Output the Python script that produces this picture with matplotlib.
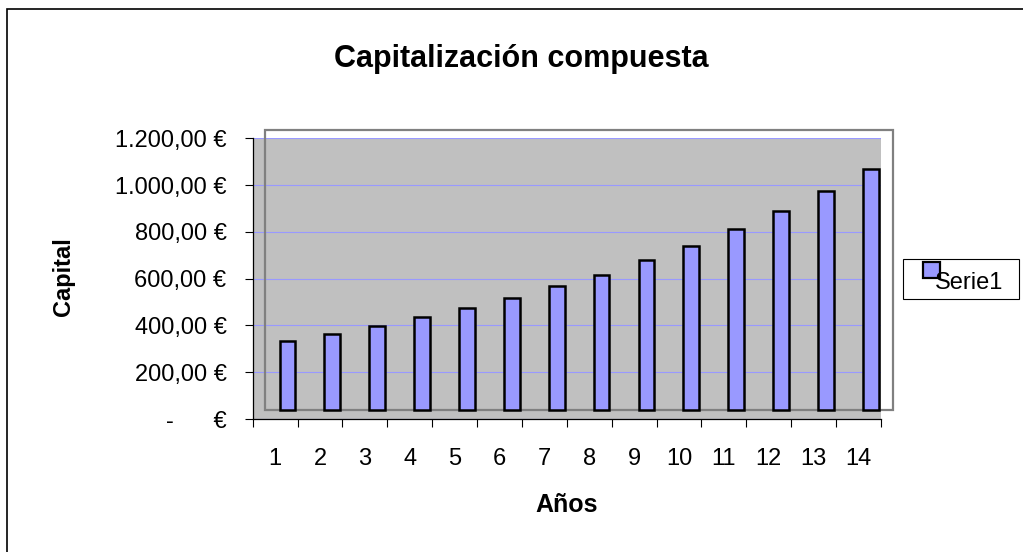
import matplotlib
matplotlib.use("Agg")
import matplotlib.pyplot as plt
from matplotlib.patches import Rectangle
from matplotlib.ticker import FixedLocator, FuncFormatter
import matplotlib.transforms as mtransforms

# datos
anios = list(range(1, 15))
capital = [298, 328, 362, 399, 437, 482, 530, 580, 641, 704, 775, 854, 937, 1032]
yticks = [0, 200, 400, 600, 800, 1000, 1200]

FONT = "Liberation Sans"
plt.rcParams["font.family"] = [FONT, "DejaVu Sans"]

W, H, DPI = 1023, 552, 100
fig = plt.figure(figsize=(W / DPI, H / DPI), dpi=DPI)


def px(x, y):
    # pixel (origen arriba-izquierda) -> fracción de figura
    return x / W, 1 - y / H


# área del eje en píxeles
ax_l, ax_r, ax_t, ax_b = 252.7, 881.0, 138.3, 419.0
ax = fig.add_axes([ax_l / W, 1 - ax_b / H, (ax_r - ax_l) / W, (ax_b - ax_t) / H])
ax.set_facecolor("#C0C0C0")

# desplazamiento "3D" de Excel: barras y marco movidos arriba-derecha
shift = mtransforms.ScaledTranslation(12.3 / DPI, 8.7 / DPI, fig.dpi_scale_trans)

ax.bar(anios, capital, width=0.35, color="#9999FF", edgecolor="black",
       linewidth=1.8, transform=ax.transData + shift, zorder=3, clip_on=False)

frame = Rectangle((0, 0), 1, 1, fill=False, edgecolor="#808080", linewidth=1.6,
                  transform=ax.transAxes + shift, clip_on=False, zorder=2)
ax.add_patch(frame)

ax.set_xlim(0.5, 14.5)
ax.set_ylim(0, 1200)

# ticks: marcas en los bordes de categoría, etiquetas centradas
ax.xaxis.set_major_locator(FixedLocator([i + 0.5 for i in range(0, 15)]))
ax.xaxis.set_major_formatter(FuncFormatter(lambda v, p: ""))
ax.xaxis.set_minor_locator(FixedLocator(anios))
ax.xaxis.set_minor_formatter(FuncFormatter(lambda v, p: f"{int(round(v))}"))
ax.tick_params(axis="x", which="major", length=5.8, width=0.8, direction="out")
ax.tick_params(axis="x", which="minor", length=0, pad=21, labelsize=17)

ax.yaxis.set_major_locator(FixedLocator(yticks))


def eur(v, pos):
    if v == 0:
        return "-      €"
    s = f"{v:,.2f}".replace(",", "X").replace(".", ",").replace("X", ".")
    return s + " €"


ax.yaxis.set_major_formatter(FuncFormatter(eur))
ax.tick_params(axis="y", length=5.8, width=0.8, pad=13, labelsize=17)

ax.grid(axis="y", color="#9999FF", linewidth=0.8, zorder=1)
ax.set_axisbelow(True)

for s in ["top", "right"]:
    ax.spines[s].set_visible(False)
for s in ["left", "bottom"]:
    ax.spines[s].set_linewidth(0.9)
    ax.spines[s].set_color("black")

# textos
fig.text(*px(521, 66.5), "Capitalización compuesta", ha="center", va="baseline",
         fontsize=22, fontweight="bold")
fig.text(*px(566.8, 511.7), "Años", ha="center", va="baseline",
         fontsize=18, fontweight="bold")
fig.text(*px(63, 277), "Capital", ha="center", va="center", rotation=90,
         fontsize=17, fontweight="bold")

# leyenda dibujada a mano (como en Excel, el texto pisa la muestra)
lx0, ly0 = px(902.7, 299)
lx1, ly1 = px(1019, 259.3)
fig.add_artist(Rectangle((lx0, ly0), lx1 - lx0, ly1 - ly0, fill=False,
                         edgecolor="black", linewidth=0.8, transform=fig.transFigure))
sx0, sy0 = px(922.7, 278)
sx1, sy1 = px(940, 262)
fig.add_artist(Rectangle((sx0, sy0), sx1 - sx0, sy1 - sy0, facecolor="#9999FF",
                         edgecolor="black", linewidth=1.6, transform=fig.transFigure))
fig.text(*px(935, 289), "Serie1", ha="left", va="baseline", fontsize=17)

# borde exterior del área del gráfico
bx0, by0 = px(7.3, 600)
bx1, by1 = px(1100, 9)
fig.add_artist(Rectangle((bx0, by0), bx1 - bx0, by1 - by0, fill=False,
                         edgecolor="black", linewidth=1.2, transform=fig.transFigure))

fig.savefig("out.png", dpi=DPI)
